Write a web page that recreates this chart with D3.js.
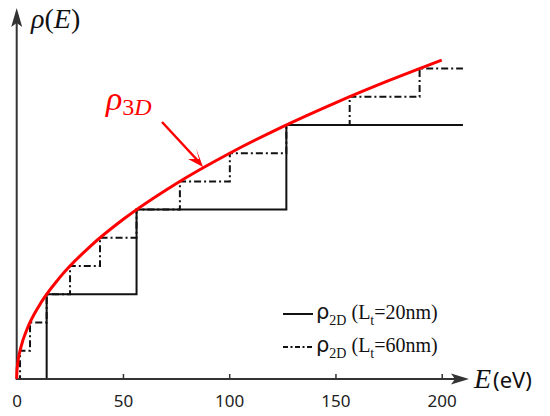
<!DOCTYPE html>
<html><head><meta charset="utf-8">
<script src="https://cdn.jsdelivr.net/npm/d3@7"></script>
<style>html,body{margin:0;padding:0;background:#fff;}svg{display:block;}</style>
</head><body>
<svg id="c" width="550" height="416"></svg>
<script>
// ---- data ----
const xTicks = [0, 50, 100, 150, 200];
// L_t = 20 nm subband edges (eV) and step levels (in units of the 60 nm step)
const edges20 = [14.1, 56.4, 126.9];
const levels20 = [3, 6, 9];
// L_t = 60 nm subband edges (eV) and step levels
const edges60 = [1.57, 6.27, 14.1, 25.1, 39.2, 56.4, 76.8, 100.3, 126.9, 156.7, 189.6];
const levels60 = [1, 2, 3, 4, 5, 6, 7, 8, 9, 10, 11];
const stepEnd = 210;
// 3D density of states
const e3D = [0, 0.1, 0.5, 2, 5, 10, 20, 35, 50, 75, 100, 125, 150, 175, 200];
const rho3D = [0, 0.253, 0.565, 1.13, 1.787, 2.527, 3.573, 4.727, 5.649, 6.919, 7.989, 8.933, 9.785, 10.569, 11.299];
const legendLabels = ["20nm", "60nm"];

const svg = d3.select("#c");
const x = d3.scaleLinear().domain([0, 200]).range([16.7, 441.7]);
const y = d3.scaleLinear().domain([0, 11]).range([379, 379 - 11 * 28.23]);
const axisCol = "#333";

// steps
function stepPts(edges, levels) {
  const pts = [[0, 0], [edges[0], 0]];
  edges.forEach((e, i) => {
    pts.push([e, levels[i]]);
    const next = i + 1 < edges.length ? edges[i + 1] : stepEnd;
    pts.push([next, levels[i]]);
  });
  return pts;
}
const line = d3.line().x(d => x(d[0])).y(d => y(d[1]));
svg.append("path").attr("d", line(stepPts(edges60, levels60)))
  .attr("fill", "none").attr("stroke", "#111").attr("stroke-width", 2)
  .attr("stroke-dasharray", "7,3,2,3");
svg.append("path").attr("d", line(stepPts(edges20, levels20)))
  .attr("fill", "none").attr("stroke", "#111").attr("stroke-width", 2);

// axes
const x0 = x(0), y0 = y(0);
svg.append("line").attr("x1", x0).attr("y1", y0).attr("x2", 455).attr("y2", y0)
  .attr("stroke", axisCol).attr("stroke-width", 2);
svg.append("path").attr("d", `M469,${y0} L451,${y0-5.5} L455,${y0} L451,${y0+5.5} Z`).attr("fill", axisCol);
svg.append("line").attr("x1", x0).attr("y1", y0 + 1).attr("x2", x0).attr("y2", 22)
  .attr("stroke", axisCol).attr("stroke-width", 2);
svg.append("path").attr("d", `M${x0},8 L${x0-5.5},27 L${x0},23 L${x0+5.5},27 Z`).attr("fill", axisCol);

const xa = svg.append("g").attr("transform", `translate(0,${y0})`)
  .call(d3.axisBottom(x).tickValues(xTicks).tickSize(-5).tickPadding(12).tickFormat(d3.format("d")));
xa.select(".domain").remove();
xa.selectAll(".tick line").attr("stroke", axisCol).attr("stroke-width", 1.5)
  .filter(d => d === 0).remove();
xa.selectAll(".tick text").attr("font-family", "Noto Sans, Open Sans, sans-serif")
  .attr("font-size", 17).attr("fill", "#222").attr("dy", null).attr("y", 28);

// red 3D curve
svg.append("path").attr("d", d3.line().x((d, i) => x(d)).y((d, i) => y(rho3D[i])).curve(d3.curveMonotoneX)(e3D))
  .attr("fill", "none").attr("stroke", "#ff0000").attr("stroke-width", 3);

// labels
const yl = svg.append("text").attr("x", 31).attr("y", 28).attr("font-family", "Liberation Serif, serif").attr("font-size", 28).attr("fill", "#111");
yl.append("tspan").attr("font-style", "italic").text("ρ");
yl.append("tspan").text("(");
yl.append("tspan").attr("font-style", "italic").text("E");
yl.append("tspan").text(")");

const xl = svg.append("text").attr("x", 474).attr("y", 388).attr("fill", "#111");
xl.append("tspan").attr("font-family", "Liberation Serif, serif").attr("font-style", "italic").attr("font-size", 28).text("E");
xl.append("tspan").attr("font-family", "Noto Sans, Open Sans, sans-serif").attr("font-size", 22).attr("dx", 2).text("(eV)");

const rl = svg.append("text").attr("x", 106).attr("y", 110).attr("fill", "#ff0000").attr("font-family", "Liberation Serif, serif");
rl.append("tspan").attr("font-style", "italic").attr("font-size", 34).text("ρ");
rl.append("tspan").attr("font-size", 24).attr("dy", 5).text("3");
rl.append("tspan").attr("font-style", "italic").attr("font-size", 24).text("D");

// red arrow
svg.append("line").attr("x1", 162).attr("y1", 122).attr("x2", 200).attr("y2", 163)
  .attr("stroke", "#ff0000").attr("stroke-width", 2.5);
svg.append("path").attr("d", "M203,167 L188,159 L199,159 L196,148 Z").attr("fill", "#ff0000");

// legend
const legendY = [314, 347];
const legendDash = [null, "5,2.5,2,2.5"];
legendLabels.forEach((lab, i) => {
  const yy = legendY[i];
  svg.append("line").attr("x1", 283).attr("x2", 313).attr("y1", yy).attr("y2", yy)
    .attr("stroke", "#111").attr("stroke-width", 2).attr("stroke-dasharray", legendDash[i]);
  const t = svg.append("text").attr("x", 316).attr("y", yy + 5).attr("fill", "#111").attr("font-family", "Liberation Serif, serif").attr("font-size", 20);
  t.append("tspan").attr("font-family", "DejaVu Sans, sans-serif").attr("font-size", 21).text("ρ");
  t.append("tspan").attr("font-size", 14).attr("dy", 6).text("2D");
  t.append("tspan").attr("dy", -6).text(" (L");
  t.append("tspan").attr("font-size", 14).attr("dy", 6).text("t");
  t.append("tspan").attr("dy", -6).text("=" + lab + ")");
});
</script>
</body></html>
